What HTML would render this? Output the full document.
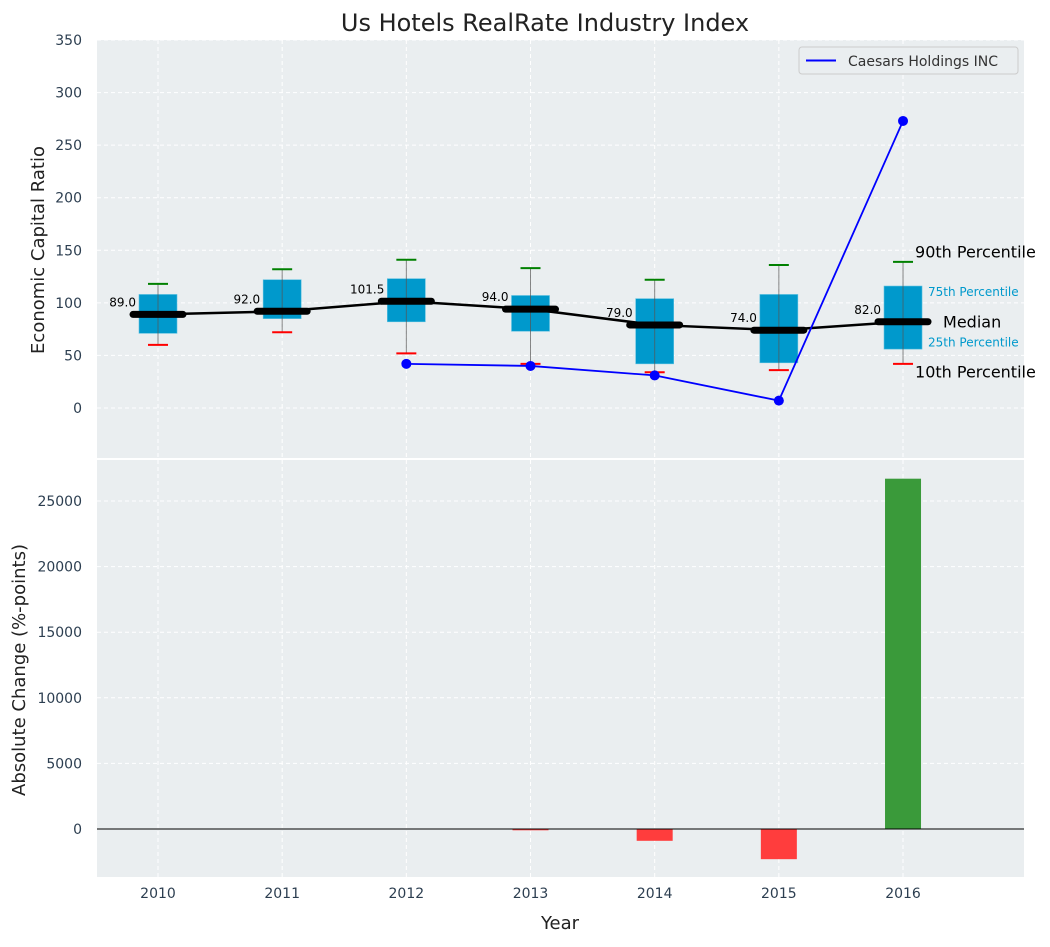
<!DOCTYPE html>
<html><head><meta charset="utf-8"><style>
body{margin:0;background:#fff;font-family:"Liberation Sans","DejaVu Sans",sans-serif}
svg text{font-family:"DejaVu Sans","Liberation Sans",sans-serif}
</style></head><body>
<svg id="c" width="1050" height="942" xmlns="http://www.w3.org/2000/svg"></svg>
<script>
const years=[2010,2011,2012,2013,2014,2015,2016];
const p10=[60,72,52,42,34,36,42];
const q1=[71,85,82,73,42,43,56];
const med=[89,92,101.5,94,79,74,82];
const q3=[108,122,123,107,104,108,116];
const p90=[118,132,141,133,122,136,139];
const compYears=[2012,2013,2014,2015,2016];
const compVals=[42,40,31,7,273];
const chgYears=[2010,2011,2012,2013,2014,2015,2016];
const chgVals=[0,0,0,-100,-900,-2300,26700];
const yTicksTop=[0,50,100,150,200,250,300,350];
const yTicksBot=[0,5000,10000,15000,20000,25000];

const NS='http://www.w3.org/2000/svg';
const svg=document.getElementById('c');
function el(t,a,txt){const e=document.createElementNS(NS,t);for(const k in a)e.setAttribute(k,a[k]);if(txt!==undefined)e.textContent=txt;svg.appendChild(e);return e;}
const L=97,R=1024;
const x=v=>158+(v-2010)*124.17;
const yT=v=>408-v*1.0514;
const yB=v=>829-v*0.01312;
let e=el('rect',{x:L,y:40,width:R-L,height:418,fill:'#eaeef0'});

e=el('rect',{x:L,y:460,width:R-L,height:417,fill:'#eaeef0'});

years.forEach(yv=>{
 el('line',{x1:x(yv),x2:x(yv),y1:40,y2:458,stroke:'#fff','stroke-dasharray':'4,3','stroke-width':1});
 el('line',{x1:x(yv),x2:x(yv),y1:460,y2:877,stroke:'#fff','stroke-dasharray':'4,3','stroke-width':1});
 e=el('text',{x:x(yv),y:898,'text-anchor':'middle','font-size':14,fill:'#2c3e50'},yv);
 
});
yTicksTop.forEach(t=>{
 el('line',{x1:L,x2:R,y1:yT(t),y2:yT(t),stroke:'#fff','stroke-dasharray':'4,3'});
 e=el('text',{x:82,y:yT(t)+5,'text-anchor':'end','font-size':14,fill:'#2c3e50'},t);
 
});
yTicksBot.forEach(t=>{
 el('line',{x1:L,x2:R,y1:yB(t),y2:yB(t),stroke:'#fff','stroke-dasharray':'4,3'});
 e=el('text',{x:82,y:yB(t)+5,'text-anchor':'end','font-size':14,fill:'#2c3e50'},t);
 
});
years.forEach((yv,i)=>{
 const cx=x(yv);
 e=el('rect',{x:cx-19,y:yT(q3[i]),width:38,height:yT(q1[i])-yT(q3[i]),fill:'#0099cc',stroke:'#5bc0e0','stroke-width':0.6});
 
 e=el('line',{x1:cx,x2:cx,y1:yT(p10[i]),y2:yT(p90[i]),stroke:'#555','stroke-width':1,opacity:0.7});
 
 e=el('line',{x1:cx-10,x2:cx+10,y1:yT(p90[i]),y2:yT(p90[i]),stroke:'green','stroke-width':2});
 
 e=el('line',{x1:cx-10,x2:cx+10,y1:yT(p10[i]),y2:yT(p10[i]),stroke:'red','stroke-width':2});
 
});
e=el('polyline',{points:years.map((yv,i)=>x(yv)+','+yT(med[i])).join(' '),fill:'none',stroke:'#000','stroke-width':2.5});

years.forEach((yv,i)=>{
 const cx=x(yv);
 e=el('line',{x1:cx-25,x2:cx+25,y1:yT(med[i]),y2:yT(med[i]),stroke:'#000','stroke-width':7,'stroke-linecap':'round'});
 
 e=el('text',{x:cx-22,y:yT(med[i])-8,'text-anchor':'end','font-size':12,fill:'#000'},med[i].toFixed(1));
 
});
e=el('polyline',{points:compYears.map((yv,i)=>x(yv)+','+yT(compVals[i])).join(' '),fill:'none',stroke:'#0000ff','stroke-width':1.8});

compYears.forEach((yv,i)=>{
 e=el('circle',{cx:x(yv),cy:yT(compVals[i]),r:5,fill:'#0000ff'});
 
});
const lx=x(2016);
[['90th Percentile',p90[6],12,16,'#000',-10],['75th Percentile',q3[6],25,12,'#0099cc',6],['Median',med[6],40,16,'#000',0],['25th Percentile',q1[6],25,12,'#0099cc',-7],['10th Percentile',p10[6],12,16,'#000',8]].forEach(a=>{
 e=el('text',{x:lx+a[2],y:yT(a[1])+a[5]+a[3]*0.35,'font-size':a[3],fill:a[4]},a[0]);
 
});
e=el('rect',{x:799,y:47,width:219,height:27,fill:'#eaeef0',stroke:'#ccc',rx:3});

el('line',{x1:806,x2:836,y1:60.5,y2:60.5,stroke:'#0000ff','stroke-width':2});
e=el('text',{x:848,y:66,'font-size':14,fill:'#333'},'Caesars Holdings INC');

chgYears.forEach((yv,i)=>{
 const v=chgVals[i];if(v===0)return;
 const y0=yB(Math.max(v,0)),h=Math.abs(yB(v)-yB(0));
 e=el('rect',{x:x(yv)-18,y:y0,width:36,height:Math.max(h,1),fill:v>0?'#3a9a3a':'#ff3d3d'});
 
});
el('line',{x1:L,x2:R,y1:yB(0),y2:yB(0),stroke:'#000','stroke-width':1});
e=el('text',{x:545,y:31,'text-anchor':'middle','font-size':24,fill:'#222'},'Us Hotels RealRate Industry Index');

e=el('text',{x:44,y:250,'text-anchor':'middle','font-size':18,fill:'#222',transform:'rotate(-90 44 250)'},'Economic Capital Ratio');

e=el('text',{x:25,y:670,'text-anchor':'middle','font-size':18,fill:'#222',transform:'rotate(-90 25 670)'},'Absolute Change (%-points)');

e=el('text',{x:560,y:929,'text-anchor':'middle','font-size':18,fill:'#222'},'Year');

</script>
</body></html>
